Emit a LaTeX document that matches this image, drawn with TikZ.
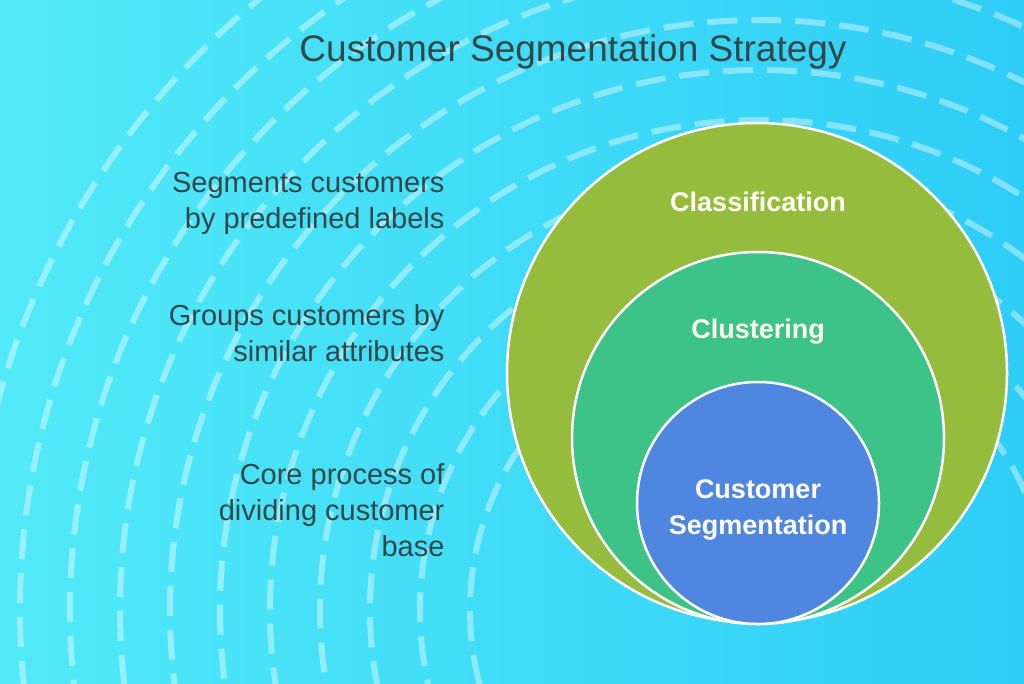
\documentclass[tikz,border=0pt]{standalone}
\usepackage{fontspec}
\setmainfont{Liberation Sans}
\definecolor{bgL}{HTML}{52EAF8}
\definecolor{bgR}{HTML}{2ECDF6}
\definecolor{olv}{HTML}{95BC3C}
\definecolor{grn}{HTML}{3DC387}
\definecolor{blu}{HTML}{4F86E0}
\definecolor{txt}{HTML}{33474A}
\begin{document}
\begin{tikzpicture}[x=1pt,y=-1pt,
  ring/.style={draw=white,line width=2.5pt},
  lab/.style={text=white!95!yellow,font=\fontsize{27}{36}\selectfont\bfseries,align=center},
  side/.style={text=txt,font=\fontsize{29}{36}\selectfont,align=right,anchor=east}]
\useasboundingbox (0,0) rectangle (1024,683);
\shade[left color=bgL, right color=bgR] (0,0) rectangle (1024,683);
\begin{scope}
\clip (0,0) rectangle (1024,683);
\foreach \r in {290,340,...,790}
  \draw[white,opacity=0.4,line width=6pt,dash pattern=on 30pt off 14pt] (760,610) circle[radius=\r];
\end{scope}
\node[text=txt,font=\fontsize{37}{40}\selectfont] (title) at (573,52) {Customer Segmentation Strategy};
\node[ring,circle,fill=olv,minimum size=500pt] (c1) at (757,373) {};
\node[ring,circle,fill=grn,minimum size=372pt] (c2) at (758,438) {};
\node[ring,circle,fill=blu,minimum size=242pt] (c3) at (758,503) {};
\node[lab] (l1) at (758,202) {Classification};
\node[lab] (l2) at (758,332) {Clustering};
\node[lab] (l3) at (758,510) {Customer\\Segmentation};
\node[side] (s1) at (448,203) {Segments customers\\by predefined labels};
\node[side] (s2) at (448,333) {Groups customers by\\similar attributes};
\node[side] (s3) at (448,510) {Core process of\\dividing customer\\base};
\end{tikzpicture}
\end{document}
